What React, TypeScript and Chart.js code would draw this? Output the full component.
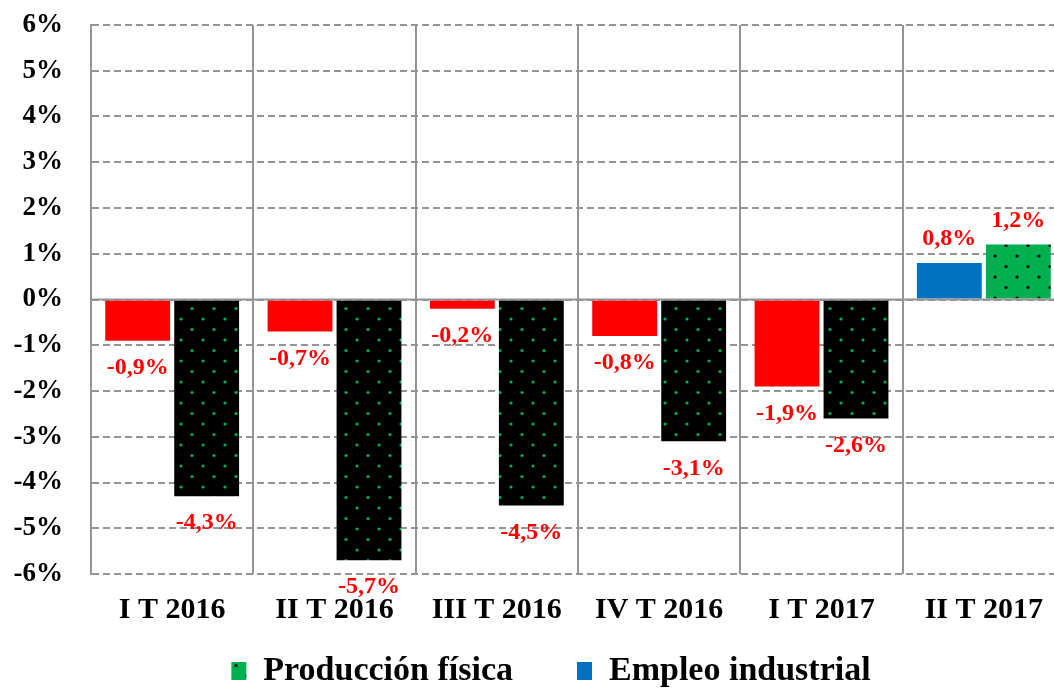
import React, { useEffect, useRef } from "react";
import { Chart, registerables } from "chart.js";

Chart.register(...registerables);

const categories = ["I T 2016", "II T 2016", "III T 2016", "IV T 2016", "I T 2017", "II T 2017"];
const empleoIndustrial = [-0.9, -0.7, -0.2, -0.8, -1.9, 0.8];
const produccionFisica = [-4.3, -5.7, -4.5, -3.1, -2.6, 1.2];
const yTicks = [-6, -5, -4, -3, -2, -1, 0, 1, 2, 3, 4, 5, 6];

const FONT = '"Liberation Serif", "Times New Roman", serif';
const RED = "#FF0000";
const BLUE = "#0070C0";
const GREEN = "#00B050";
const GRID = "#949494";

function makeDots(bg: string, dot: string): CanvasPattern | string {
  const c = document.createElement("canvas");
  c.width = 22;
  c.height = 21;
  const g = c.getContext("2d");
  if (!g) return bg;
  g.fillStyle = bg;
  g.fillRect(0, 0, 22, 21);
  g.fillStyle = dot;
  [[5, 4], [16, 14.5]].forEach(([x, y]) => {
    g.beginPath();
    g.arc(x, y, 1.6, 0, Math.PI * 2);
    g.fill();
  });
  const p = g.createPattern(c, "repeat");
  return p || bg;
}

const fmt = (v: number) => v.toFixed(1).replace(".", ",") + "%";

export default function App() {
  const ref = useRef<HTMLCanvasElement | null>(null);

  useEffect(() => {
    if (!ref.current) return;
    const blackDots = makeDots("#000000", GREEN);
    const greenDots = makeDots(GREEN, "#000000");
    const last = categories.length - 1;

    const valueLabels = {
      id: "valueLabels",
      afterLayout(chart: any) {
        // let the category labels extend below the thin axis box (not clipped)
        chart.scales.x.bottom = chart.height;
      },
      afterDatasetsDraw(chart: any) {
        const ctx = chart.ctx;
        const y0 = chart.scales.y.getPixelForValue(0);
        ctx.save();
        ctx.strokeStyle = GRID;
        ctx.lineWidth = 2;
        ctx.beginPath();
        ctx.moveTo(chart.chartArea.left, y0);
        ctx.lineTo(chart.chartArea.right, y0);
        ctx.stroke();
        ctx.font = "bold 24px " + FONT;
        ctx.fillStyle = RED;
        ctx.textAlign = "center";
        ctx.textBaseline = "middle";
        chart.data.datasets.forEach((ds: any, di: number) => {
          const meta = chart.getDatasetMeta(di);
          meta.data.forEach((bar: any, i: number) => {
            const v = ds.data[i] as number;
            const y = v >= 0 ? bar.y - 24 : bar.y + 27;
            ctx.fillText(fmt(v), bar.x, y);
          });
        });
        ctx.restore();
      },
    };

    const chart = new Chart(ref.current, {
      type: "bar",
      data: {
        labels: categories,
        datasets: [
          {
            label: "Empleo industrial",
            data: empleoIndustrial,
            backgroundColor: empleoIndustrial.map((_, i) => (i === last ? BLUE : RED)),
            borderWidth: 0,
            categoryPercentage: 0.85,
            barPercentage: 0.94,
          },
          {
            label: "Producción física",
            data: produccionFisica,
            backgroundColor: produccionFisica.map((_, i) => (i === last ? greenDots : blackDots)) as any,
            borderWidth: 0,
            categoryPercentage: 0.85,
            barPercentage: 0.94,
          },
        ],
      },
      options: {
        animation: false,
        responsive: false,
        devicePixelRatio: 1,
        layout: { padding: { top: 25, left: 0, right: 0, bottom: 0 } },
        plugins: {
          title: { display: false },
          tooltip: { enabled: false },
          legend: {
            display: true,
            position: "bottom",
            labels: {
              font: { family: FONT, size: 34, weight: "bold" },
              color: "#000000",
              boxWidth: 15,
              boxHeight: 18,
              padding: 64,
              generateLabels: () => [
                {
                  text: "Producción física",
                  fillStyle: greenDots as any,
                  strokeStyle: "rgba(0,0,0,0)",
                  lineWidth: 0,
                  hidden: false,
                  datasetIndex: 1,
                },
                {
                  text: "Empleo industrial",
                  fillStyle: BLUE,
                  strokeStyle: "rgba(0,0,0,0)",
                  lineWidth: 0,
                  hidden: false,
                  datasetIndex: 0,
                },
              ],
            },
          },
        },
        scales: {
          x: {
            grid: { display: true, color: GRID, lineWidth: 2, drawTicks: false, offset: true },
            border: { display: false },
            ticks: {
              color: "#000000",
              font: { family: FONT, size: 30, weight: "bold" },
              padding: 18,
              maxRotation: 0,
              autoSkip: false,
            },
            afterFit: (s: any) => {
              s.height = 16;
              s.paddingLeft = 0;
              s.paddingRight = 0;
            },
          },
          y: {
            min: -6,
            max: 6,
            afterBuildTicks: (s: any) => {
              s.ticks = yTicks.map((v) => ({ value: v }));
            },
            grid: { color: GRID, lineWidth: 2, drawTicks: false },
            border: { display: true, color: GRID, width: 2, dash: [7, 4] },
            ticks: {
              color: "#000000",
              font: { family: FONT, size: 27, weight: "bold" },
              padding: 28,
              callback: (v: any) => v + "%",
            },
            afterFit: (s: any) => {
              s.width = 91;
              s.paddingTop = 0;
              s.paddingBottom = 0;
            },
          },
          y2: {
            position: "right",
            display: true,
            grid: { display: false, drawTicks: false },
            border: { display: false },
            ticks: { display: false },
            afterFit: (s: any) => {
              s.width = 37;
              s.paddingTop = 0;
              s.paddingBottom = 0;
            },
          },
        },
      },
      plugins: [valueLabels],
    });
    return () => chart.destroy();
  }, []);

  return (
    <div
      style={{
        position: "fixed",
        left: 0,
        top: 0,
        width: 1054,
        height: 689,
        overflow: "hidden",
        background: "#ffffff",
      }}
    >
      <canvas ref={ref} width={1102} height={698} style={{ width: 1102, height: 698, display: "block" }} />
    </div>
  );
}
